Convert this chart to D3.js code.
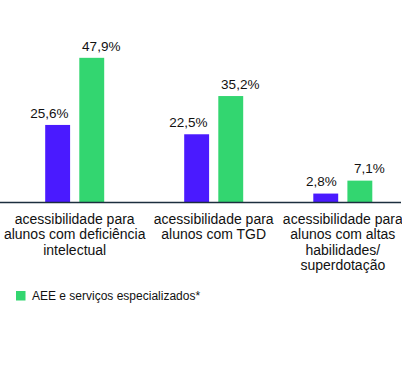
<!DOCTYPE html>
<html>
<head>
<meta charset="utf-8">
<script src="https://cdn.jsdelivr.net/npm/d3@7"></script>
<style>
  html, body { margin: 0; padding: 0; background: #fff; }
  svg { display: block; font-family: "Liberation Sans", Arial, sans-serif; }
</style>
</head>
<body>
<svg id="chart" width="402" height="387"></svg>
<script>
const categories = [
  ["acessibilidade para", "alunos com deficiência", "intelectual"],
  ["acessibilidade para", "alunos com TGD"],
  ["acessibilidade para", "alunos com altas", "habilidades/", "superdotação"]
];
const categoryKeys = ["deficiencia", "tgd", "altas"];
const seriesNames = ["", "AEE e serviços especializados*"];
const seriesA = [25.6, 22.5, 2.8];
const seriesB = [47.9, 35.2, 7.1];
const colors = ["#4a1aff", "#33d670"];
const showInLegend = [false, true];

const svg = d3.select("#chart");
const baseY = 202;

const x = d3.scaleOrdinal().domain(categoryKeys).range([74.7, 213.7, 342.8]);
const inner = d3.scaleBand().domain([0, 1]).range([-29.5, 29.5]).paddingInner(0.27).paddingOuter(0);
const y = d3.scaleLinear().domain([0, 50]).range([baseY, 51.5]);

const fmt = v => d3.format(".1f")(v).replace(".", ",") + "%";

const series = [seriesA, seriesB];
series.forEach((vals, si) => {
  const g = svg.append("g");
  g.selectAll("rect").data(vals).join("rect")
    .attr("x", (d, i) => x(categoryKeys[i]) + inner(si))
    .attr("y", d => y(d))
    .attr("width", inner.bandwidth())
    .attr("height", d => baseY - y(d))
    .attr("fill", colors[si]);
  g.selectAll("text").data(vals).join("text")
    .attr("x", (d, i) => si === 0
      ? x(categoryKeys[i]) + inner(si) + inner.bandwidth() - 1.5
      : x(categoryKeys[i]) + inner(si) + inner.bandwidth() / 2 + 9.5)
    .attr("y", d => y(d) - 7.3)
    .attr("text-anchor", si === 0 ? "end" : "middle")
    .attr("font-size", 13.5)
    .attr("fill", "#111")
    .text(d => fmt(d));
});

// baseline axis
svg.append("line")
  .attr("x1", 0).attr("x2", 401)
  .attr("y1", baseY + 0.5).attr("y2", baseY + 0.5)
  .attr("stroke", "#1c2e3e").attr("stroke-width", 1.5);

// category labels
const lab = svg.append("g");
categories.forEach((lines, i) => {
  const t = lab.append("text")
    .attr("text-anchor", "middle")
    .attr("font-size", 14)
    .attr("fill", "#111");
  lines.forEach((ln, j) => {
    t.append("tspan")
      .attr("x", x(categoryKeys[i]))
      .attr("y", 224 + j * 15.4)
      .text(ln);
  });
});

// legend
const leg = svg.append("g").attr("transform", "translate(16,291)");
let lx = 0;
seriesNames.forEach((name, si) => {
  if (!showInLegend[si]) return;
  const item = leg.append("g").attr("transform", `translate(${lx},0)`);
  item.append("rect").attr("width", 9.5).attr("height", 9.5).attr("fill", colors[si]);
  item.append("text").attr("x", 16).attr("y", 8.5).attr("font-size", 12).attr("fill", "#111").text(name);
  lx += 200;
});
</script>
</body>
</html>
